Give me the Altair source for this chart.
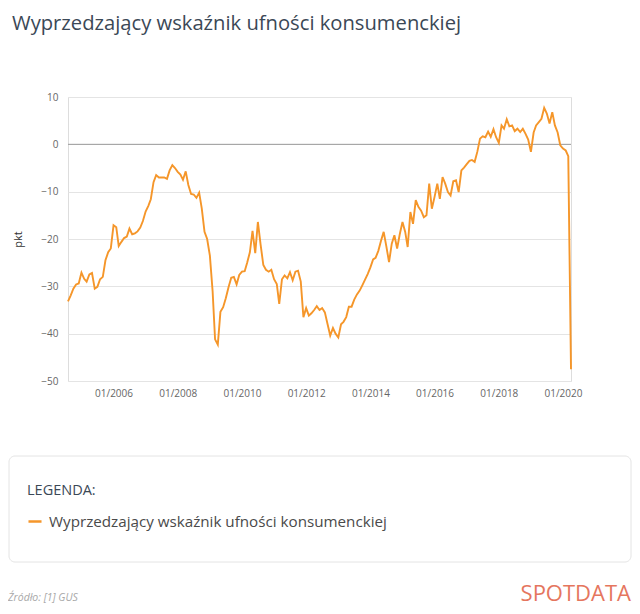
import altair as alt
import pandas as pd

title_text = "Wyprzedzający wskaźnik ufności konsumenckiej"
series_name = "Wyprzedzający wskaźnik ufności konsumenckiej"
legend_title = "LEGENDA:"
source_text = "Źródło: [1] GUS"
brand_text = "SPOTDATA"
y_title = "pkt"

start_month = "2004-08-01"
end_month = (2020, 4)
values = [
    -33.2, -31.9, -30.5, -29.6, -29.4,
    -27.1, -28.4, -29.0, -27.5, -27.2, -30.5, -30.1, -28.5, -28.0, -24.5, -22.8, -22.0,
    -17.1, -17.5, -21.5, -20.6, -19.8, -19.5, -17.8, -19.0, -18.8, -18.4, -17.6, -16.2,
    -14.2, -13.0, -11.6, -8.0, -6.5, -7.0, -7.0, -7.0, -7.3, -5.5, -4.4, -5.0,
    -5.8, -6.4, -7.5, -5.7, -8.6, -10.5, -10.6, -11.3, -10.2, -13.6, -18.5, -20.0,
    -23.5, -31.0, -41.2, -42.3, -35.4, -34.4, -32.5, -30.2, -28.2, -28.0, -29.6, -27.6,
    -26.9, -26.8, -25.0, -22.8, -18.3, -23.0, -16.4, -21.2, -25.5, -26.5, -26.9, -26.5,
    -28.5, -29.5, -33.7, -28.5, -27.7, -28.3, -27.0, -28.7, -26.9, -26.7, -29.0, -36.5,
    -34.6, -36.2, -35.7, -35.0, -34.2, -35.0, -34.6, -35.5, -38.0, -40.4, -38.8, -40.0,
    -40.8, -38.0, -37.5, -36.5, -34.3, -34.3, -32.8, -31.7, -30.9, -29.8, -28.6, -27.4,
    -26.0, -24.3, -24.0, -22.5, -20.4, -18.5, -21.5, -24.9, -21.0, -19.2, -22.0, -19.0,
    -16.4, -18.5, -21.7, -14.3, -16.8, -11.8, -13.2, -14.0, -15.4, -15.0, -8.3, -13.6,
    -11.1, -8.3, -11.5, -6.9, -8.3, -10.1, -10.8, -7.8, -7.6, -10.1, -5.5, -4.9,
    -4.2, -3.5, -3.3, -3.7, -1.6, 1.2, 1.7, 1.5, 2.7, 1.6, 3.2, 1.5,
    0.3, 4.0, 3.3, 5.3, 3.8, 4.0, 2.8, 3.3, 2.6, 3.3, 2.2, 1.0,
    -1.6, 2.5, 4.0, 4.7, 5.4, 7.7, 6.5, 4.4, 6.8, 4.0, 2.5, -0.2,
    -0.9, -1.3, -2.5, -47.5,
]
tick_years = [2006, 2008, 2010, 2012, 2014, 2016, 2018, 2020]
y_ticks = [-50, -45, -40, -35, -30, -25, -20, -15, -10, -5, 0, 5, 10]

dates = pd.date_range(start_month, periods=len(values), freq="MS")
df = pd.DataFrame({"date": dates, "value": values, "series": series_name})

W, H = 503, 284
FONT = "Open Sans"
ORANGE = "#f5962a"
DARK = "#3b4856"

x_enc = alt.X(
    "date:T",
    scale=alt.Scale(domain=[alt.DateTime(year=2004, month=8, date=1),
                            alt.DateTime(year=end_month[0], month=end_month[1], date=1)]),
    axis=alt.Axis(
        values=[alt.DateTime(year=y, month=1, date=1) for y in tick_years],
        format="%m/%Y", grid=False, domain=False, ticks=False,
        labelPadding=7, labelFontSize=10, labelColor="#666666", labelFont=FONT,
        title=None,
    ),
)
y_enc = alt.Y(
    "value:Q",
    scale=alt.Scale(domain=[-50, 10], nice=False, zero=False),
    axis=alt.Axis(
        values=y_ticks,
        labelExpr="datum.value % 10 === 0 ? datum.label : ''",
        grid=True, gridColor="#e4e4e4", gridWidth=1,
        domain=False, ticks=False, labelPadding=10,
        labelFontSize=10, labelColor="#666666", labelFont=FONT,
        title=y_title, titleFont=FONT, titleFontSize=11, titleFontWeight="normal",
        titleColor="#333333", titleX=-45, titleY=142, titleAngle=-90,
    ),
)

line = alt.Chart(df).mark_line(strokeWidth=1.9).encode(
    x=x_enc,
    y=y_enc,
    color=alt.Color(
        "series:N",
        scale=alt.Scale(domain=[series_name], range=[ORANGE]),
        legend=alt.Legend(
            title=legend_title, orient="none", legendX=-41, legendY=387,
            symbolType="stroke", symbolStrokeWidth=2.5, symbolSize=170,
            titleFont=FONT, titleFontSize=14.5, titleFontWeight="normal", titleColor=DARK,
            labelFont=FONT, labelFontSize=15.2, labelColor="#4a4a4a", labelLimit=600,
            titlePadding=15, labelOffset=6,
        ),
    ),
)

zero_df = pd.DataFrame({"value": [0]})
zero_rule = alt.Chart(zero_df).mark_rule(color="#9a9a9a", strokeWidth=1).encode(
    y=alt.Y("value:Q")
)

box_df = pd.DataFrame({"k": [0]})
box = alt.Chart(box_df).mark_rect(
    fill="white", stroke="#e4e4e4", strokeWidth=1, cornerRadius=6
).encode(x=alt.value(-59), x2=alt.value(563), y=alt.value(359), y2=alt.value(465))

src = alt.Chart(box_df).mark_text(
    font=FONT, fontSize=10.5, fontStyle="italic", color="#a8a8a8", align="left", baseline="middle"
).encode(x=alt.value(-60), y=alt.value(501), text=alt.value(source_text))

brand = alt.Chart(box_df).mark_text(
    font=FONT, fontSize=22, color="#e5765e", align="right", baseline="middle"
).encode(x=alt.value(563), y=alt.value(497), text=alt.value(brand_text))

chart = alt.layer(box, zero_rule, line, src, brand).properties(
    width=W, height=H,
    title=alt.TitleParams(
        text=title_text, anchor="start", frame="group", dx=-56, offset=58,
        font=FONT, fontSize=20.2, fontWeight=500, color=DARK,
    ),
    padding={"left": 60, "top": 89, "right": 61, "bottom": 225},
    autosize=alt.AutoSizeParams(type="none"),
).configure_view(stroke=None).configure(background="white")

chart.save("out.html", embed_options={"renderer": "svg", "actions": False})
